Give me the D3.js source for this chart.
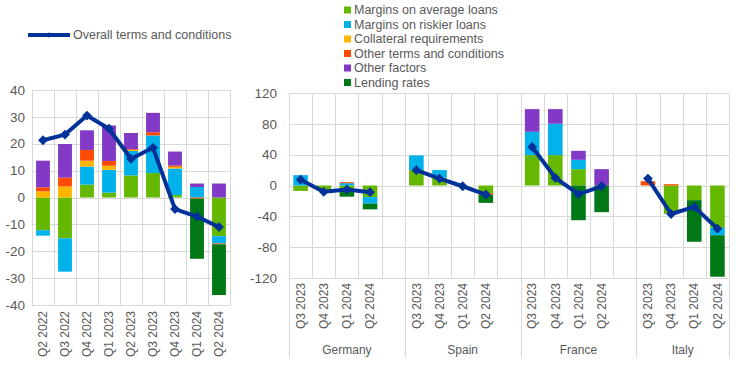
<!DOCTYPE html>
<html>
<head>
<meta charset="utf-8">
<script src="https://cdn.jsdelivr.net/npm/d3@7"></script>
<style>
  body { margin: 0; background: #fff; }
  svg { display: block; font-family: "Liberation Sans", Arial, sans-serif; }
  .grid line { stroke: #d9d9d9; stroke-width: 1; }
  text { fill: #595959; }
</style>
</head>
<body>
<svg id="chart" width="744" height="385"></svg>
<script>
// left panel: euro area, quarterly
const leftCats = ['Q2 2022', 'Q3 2022', 'Q4 2022', 'Q1 2023', 'Q2 2023', 'Q3 2023', 'Q4 2023', 'Q1 2024', 'Q2 2024'];
const leftAvg     = [-12.2, -15.2, 4.8, 1.8, 8.2, 9.1, 0.9, 0, -14.4];
const leftRisk    = [-2.0, -12.4, 6.7, 8.5, 9.1, 14.0, 9.9, 3.9, -2.7];
const leftColl    = [2.3, 4.1, 2.2, 1.5, 0.4, 0, 0.6, 0, 0];
const leftTerms   = [1.5, 3.3, 4.0, 1.8, 0.3, 1.2, 0.5, -0.4, -0.3];
const leftFactors = [9.9, 12.5, 7.3, 13.2, 6.0, 7.2, 5.2, 1.3, 5.2];
const leftRates   = [0, 0, 0, 0, 0, 0, 0, -22.4, -18.9];
const leftOverall = [21.3, 23.4, 30.5, 25.6, 14.4, 18.5, -4.3, -7.1, -11.0];
const leftTicks = [40, 30, 20, 10, 0, -10, -20, -30, -40];

// right panel: countries
const countries = ['Germany', 'Spain', 'France', 'Italy'];
const quarters = ['Q3 2023', 'Q4 2023', 'Q1 2024', 'Q2 2024'];
// values in order Germany, Spain, France, Italy (4 quarters each)
const rightAvg     = [-7, -6.5, -6, -15,   20, 10, 0, -10,   39.4, 39.4, 21.2, 0,   0, -36.8, -19, -55];
const rightRisk    = [13.4, 0, 3, -8.6,    19, 10, 0, 0,     30.3, 40.7, 12.1, 0,   0, 0, 0, -9.5];
const rightColl    = [0, 0, 0, 0,          0, 0, 0, 0,       0, 0, 0, 0,            0, 0, 0, 0];
const rightTerms   = [0, 0, 1.3, 0,        0, 0, 0, -2,      0, 0, 0, 0,            5.6, 1.7, 0, 0];
const rightFactors = [0, 0, 0, 0,          0, 0, 0, 0,       29.4, 19, 11.7, 21.2,  0, 0, 0, 0];
const rightRates   = [0, 0, -8.5, -7.3,    0, 0, 0, -10.5,   0, 0, -45, -34.6,      0, 0, -54, -53.8];
const rightOverall = [7.5, -8.2, -5.2, -8.7, 19.9, 9, -1, -11.7, 50, 10, -11.3, -1, 9, -37, -27.7, -56];
const rightTicks = [120, 80, 40, 0, -40, -80, -120];

const seriesNames = ['Margins on average loans', 'Margins on riskier loans', 'Collateral requirements',
  'Other terms and conditions', 'Other factors', 'Lending rates'];
const seriesKeys = ['avg', 'risk', 'coll', 'terms', 'factors', 'rates'];
const colors = ['#65b800', '#00b1ea', '#ffb400', '#ff4b00', '#8139c6', '#007816'];
const lineName = 'Overall terms and conditions';
const lineColor = '#003299';

const svg = d3.select('#chart');
const color = d3.scaleOrdinal(seriesKeys, colors);
const stack = d3.stack().keys(seriesKeys).offset(d3.stackOffsetDiverging);

function drawPanel({ rows, slots, yDomain, yRange, xRange, ticks, tickX }) {
  const g = svg.append('g');
  const x = d3.scaleBand().domain(slots).range(xRange).padding(0);
  const y = d3.scaleLinear().domain(yDomain).range(yRange);
  const barW = x.bandwidth() * 0.63;

  const grid = g.append('g').attr('class', 'grid');
  grid.selectAll('line.h').data(ticks).join('line').attr('class', 'h')
    .attr('x1', xRange[0]).attr('x2', xRange[1])
    .attr('y1', d => Math.round(y(d)) + 0.5).attr('y2', d => Math.round(y(d)) + 0.5);
  const edges = slots.map(s => x(s)).concat([xRange[1]]);
  grid.selectAll('line.v').data(edges).join('line').attr('class', 'v')
    .attr('x1', d => Math.round(d) + 0.5).attr('x2', d => Math.round(d) + 0.5)
    .attr('y1', y(yDomain[1])).attr('y2', y(yDomain[0]));

  g.append('g').selectAll('text').data(ticks).join('text')
    .attr('x', tickX).attr('y', d => y(d)).attr('dy', '0.35em')
    .attr('text-anchor', 'end').attr('font-size', 13.5).text(d => d);

  const layers = stack(rows);
  g.append('g').selectAll('g').data(layers).join('g')
    .attr('fill', d => color(d.key))
    .selectAll('rect').data(d => d).join('rect')
    .attr('x', d => x(d.data.slot) + (x.bandwidth() - barW) / 2)
    .attr('width', barW)
    .attr('y', d => y(Math.max(d[0], d[1])))
    .attr('height', d => Math.abs(y(d[0]) - y(d[1])));

  return { g, x, y };
}

function drawLine(g, x, y, rows) {
  const line = d3.line().x(d => x(d.slot) + x.bandwidth() / 2).y(d => y(d.overall));
  g.append('path').datum(rows).attr('fill', 'none').attr('stroke', lineColor)
    .attr('stroke-width', 4).attr('stroke-linejoin', 'round').attr('d', line);
  // diamond marker: square turned 45 degrees
  g.append('g').selectAll('path').data(rows).join('path')
    .attr('transform', d => `translate(${x(d.slot) + x.bandwidth() / 2},${y(d.overall)}) rotate(45)`)
    .attr('fill', lineColor)
    .attr('d', d3.symbol(d3.symbolSquare, 48));
}

// ---- left panel
const leftRows = leftCats.map((c, i) => ({
  slot: c, avg: leftAvg[i], risk: leftRisk[i], coll: leftColl[i], terms: leftTerms[i],
  factors: leftFactors[i], rates: leftRates[i], overall: leftOverall[i]
}));
const L = drawPanel({ rows: leftRows, slots: leftCats, yDomain: [-40, 40], yRange: [305, 90],
  xRange: [32, 230], ticks: leftTicks, tickX: 25 });
drawLine(L.g, L.x, L.y, leftRows);
L.g.append('g').selectAll('text').data(leftCats).join('text')
  .attr('transform', d => `translate(${L.x(d) + L.x.bandwidth() / 2},311) rotate(-90)`)
  .attr('text-anchor', 'end').attr('dy', '0.35em').attr('font-size', 12).text(d => d);

// ---- right panel
const rightSlots = [];
const rightRows = [];
countries.forEach((c, ci) => {
  quarters.forEach((q, qi) => {
    const i = ci * 4 + qi;
    const slot = c + '|' + q;
    rightSlots.push(slot);
    rightRows.push({ slot, country: c, quarter: q, avg: rightAvg[i], risk: rightRisk[i],
      coll: rightColl[i], terms: rightTerms[i], factors: rightFactors[i], rates: rightRates[i],
      overall: rightOverall[i] });
  });
  if (ci < countries.length - 1) rightSlots.push(c + '|gap');
});
const R = drawPanel({ rows: rightRows, slots: rightSlots, yDomain: [-120, 120], yRange: [278, 93],
  xRange: [289, 729], ticks: rightTicks, tickX: 277 });
countries.forEach(c => drawLine(R.g, R.x, R.y, rightRows.filter(d => d.country === c)));
R.g.append('g').selectAll('text').data(rightRows).join('text')
  .attr('transform', d => `translate(${R.x(d.slot) + R.x.bandwidth() / 2},283) rotate(-90)`)
  .attr('text-anchor', 'end').attr('dy', '0.35em').attr('font-size', 12).text(d => d.quarter);

// country group separators and names
const groupEdges = countries.map(c => R.x(c + '|' + quarters[0])).concat([729]);
R.g.append('g').attr('class', 'grid').selectAll('line').data(groupEdges).join('line')
  .attr('x1', d => Math.round(d) + 0.5).attr('x2', d => Math.round(d) + 0.5)
  .attr('y1', 278).attr('y2', 358);
R.g.append('g').selectAll('text').data(countries).join('text')
  .attr('x', (c, i) => (groupEdges[i] + groupEdges[i + 1]) / 2).attr('y', 354)
  .attr('text-anchor', 'middle').attr('font-size', 12).text(d => d);

// ---- legends
const lineLeg = svg.append('g').attr('transform', 'translate(28,35)');
lineLeg.append('line').attr('x1', 0).attr('x2', 42).attr('stroke', lineColor).attr('stroke-width', 4);
lineLeg.append('path').attr('transform', 'translate(21,0) rotate(45)').attr('fill', lineColor)
  .attr('d', d3.symbol(d3.symbolSquare, 14));
lineLeg.append('text').attr('x', 45).attr('dy', '0.35em').attr('font-size', 12.5).text(lineName);

const leg = svg.append('g').attr('transform', 'translate(344,10)');
const items = leg.selectAll('g').data(seriesKeys).join('g')
  .attr('transform', (d, i) => `translate(0,${i * 14.5})`);
items.append('rect').attr('y', -3.5).attr('width', 7).attr('height', 7).attr('fill', d => color(d));
items.append('text').attr('x', 10).attr('dy', '0.35em').attr('font-size', 12.5)
  .text((d, i) => seriesNames[i]);
</script>
</body>
</html>
